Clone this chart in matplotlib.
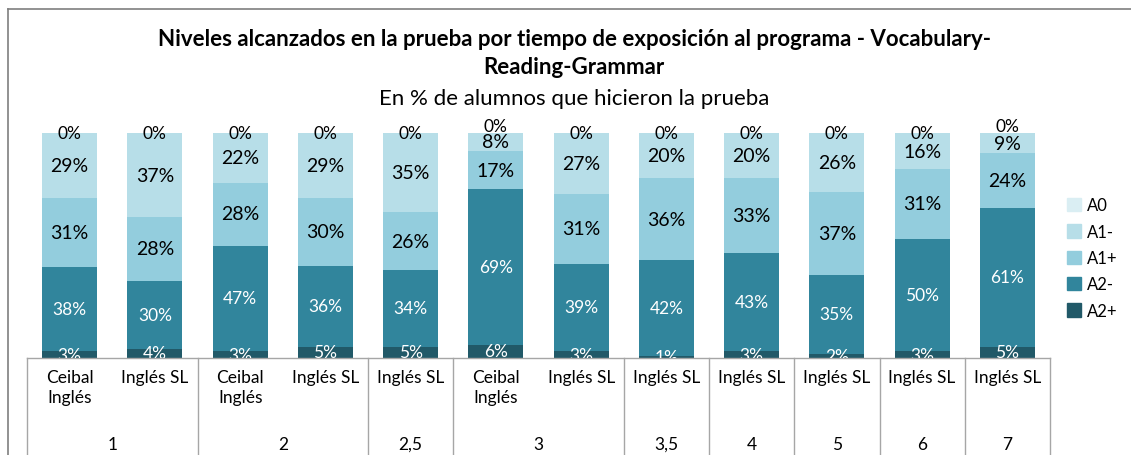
import numpy as np
import matplotlib.pyplot as plt
from matplotlib.lines import Line2D
from matplotlib.patches import Patch
import matplotlib.transforms as mtransforms

plt.rcParams['font.family'] = ['Lato', 'DejaVu Sans']

# data (percent of students, per level)
bar_labels = ["Ceibal\nInglés", "Inglés SL", "Ceibal\nInglés", "Inglés SL", "Inglés SL",
              "Ceibal\nInglés", "Inglés SL", "Inglés SL", "Inglés SL", "Inglés SL",
              "Inglés SL", "Inglés SL"]
group_labels = ["1", "2", "2,5", "3", "3,5", "4", "5", "6", "7"]
group_sizes = [2, 2, 1, 2, 1, 1, 1, 1, 1]
levels = ["A2+", "A2-", "A1+", "A1-", "A0"]
a2_plus = [3, 4, 3, 5, 5, 6, 3, 1, 3, 2, 3, 5]
a2_minus = [38, 30, 47, 36, 34, 69, 39, 42, 43, 35, 50, 61]
a1_plus = [31, 28, 28, 30, 26, 17, 31, 36, 33, 37, 31, 24]
a1_minus = [29, 37, 22, 29, 35, 8, 27, 20, 20, 26, 16, 9]
a0 = [0, 0, 0, 0, 0, 0, 0, 0, 0, 0, 0, 0]
colors = ["#215968", "#31859C", "#93CDDD", "#B7DEE8", "#DAEEF3"]
text_colors = ["white", "white", "black", "black", "black"]
text_sizes = [12.5, 12.5, 14, 14, 12.5]

W, H = 1131, 456
fig = plt.figure(figsize=(W / 100, H / 100), dpi=100)
ax = fig.add_axes([27 / W, (H - 359) / H, (1050 - 27) / W, (359 - 134) / H])

data = np.array([a2_plus, a2_minus, a1_plus, a1_minus, a0], dtype=float)
norm = data / data.sum(axis=0) * 100
x = np.arange(len(bar_labels))
bottom = np.zeros(len(x))
for k in range(len(levels)):
    ax.bar(x, norm[k], 0.645, bottom=bottom, color=colors[k], label=levels[k])
    for i in range(len(x)):
        yc = bottom[i] + norm[k][i] / 2
        if k == len(levels) - 1 and norm[k - 1][i] < 10:
            yc += 3  # nudge top label off a thin segment
        ax.text(x[i], yc, f"{int(data[k][i])}%", ha='center', va='center',
                color=text_colors[k], fontsize=text_sizes[k], clip_on=(k == 0))
    bottom += norm[k]

ax.set_xlim(-0.5, len(x) - 0.5)
ax.set_ylim(0, 100)
ax.set_xticks([])
ax.set_yticks([])
for s in ['top', 'right', 'left']:
    ax.spines[s].set_visible(False)
ax.spines['bottom'].set_color('#A6A6A6')
ax.spines['bottom'].set_linewidth(1)

# category table
trans = mtransforms.blended_transform_factory(ax.transData, ax.transAxes)
bounds = np.concatenate([[0], np.cumsum(group_sizes)]) - 0.5
for b in bounds:
    ax.plot([b, b], [0, -0.5], transform=trans, color='#A6A6A6', lw=1, clip_on=False)
for i, lab in enumerate(bar_labels):
    ax.text(x[i], -0.05, lab, transform=trans, ha='center', va='top',
            fontsize=12.5, linespacing=1.3)
for g, lab in enumerate(group_labels):
    ax.text((bounds[g] + bounds[g + 1]) / 2, -0.382, lab, transform=trans,
            ha='center', va='center', fontsize=12.5)

# legend
handles = [Patch(color=colors[k], label=levels[k]) for k in range(len(levels))][::-1]
fig.legend(handles=handles, loc='center left', bbox_to_anchor=(1052 / W, 1 - 259 / H),
           frameon=False, fontsize=12, handlelength=0.85, handleheight=0.85,
           handletextpad=0.35, labelspacing=0.62)

# titles
fig.text(574 / W, 1 - 40 / H, "Niveles alcanzados en la prueba por tiempo de exposición al programa - Vocabulary-",
         ha='center', va='center', fontsize=16, fontweight='bold')
fig.text(574 / W, 1 - 67 / H, "Reading-Grammar", ha='center', va='center',
         fontsize=16, fontweight='bold')
fig.text(574 / W, 1 - 99 / H, "En % de alumnos que hicieron la prueba", ha='center',
         va='center', fontsize=16)

# chart frame (cropped)
fig.add_artist(Line2D([8 / W, 8 / W], [0, 1 - 10 / H], color='#7F7F7F', lw=1.2))
fig.add_artist(Line2D([8 / W, 1], [1 - 10 / H, 1 - 10 / H], color='#7F7F7F', lw=1.2))

fig.savefig("out.png", dpi=100)
